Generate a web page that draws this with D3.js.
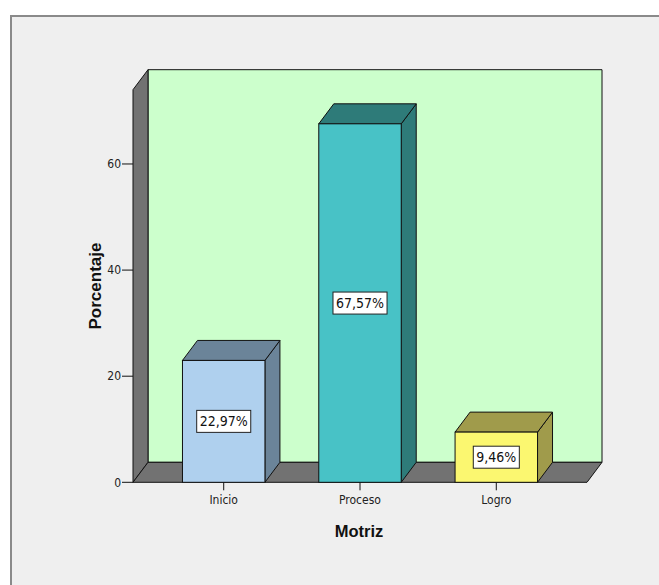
<!DOCTYPE html>
<html>
<head>
<meta charset="utf-8" />
<style>
    body { margin: 0; background: #fff; }
    .narrow { font-family: "Liberation Sans Narrow", "Arial Narrow", "DejaVu Sans Condensed", sans-serif; font-stretch: condensed; }
    .title { font-family: "Liberation Sans", Arial, sans-serif; font-weight: bold; }
</style>
</head>
<body>
<svg width="659" height="585"></svg>
<script src="https://d3js.org/d3.v7.min.js"></script>
<script>
    var categories = ["Inicio", "Proceso", "Logro"];
    var values = [22.97, 67.57, 9.46];
    var valueLabels = ["22,97%", "67,57%", "9,46%"];
    var yTicks = [0, 20, 40, 60];
    var frontColors = ["#afd0ee", "#48c2c6", "#fbf770"];
    var shadeColors = ["#6b8499", "#2e7b79", "#a09b4b"];

    var svg = d3.select("svg");

    // outer panel
    svg.append("rect")
        .attr("x", 11).attr("y", 16)
        .attr("width", 660).attr("height", 590)
        .attr("fill", "#efefef")
        .attr("stroke", "#8a8a8a")
        .attr("stroke-width", 2);

    // 3d depth offset
    var dx = 15, dy = -20;

    var y = d3.scaleLinear().domain([0, 74]).range([482.3, 89.7]);
    var x = d3.scaleBand().domain(categories)
        .range([133, 587])
        .paddingInner(0.395)
        .paddingOuter(0.363);

    var x0 = x.range()[0], x1 = x.range()[1];
    var yb = y(0), yt = y(74);

    function poly(pts) { return "M" + pts.map(p => p.join(",")).join("L") + "Z"; }

    // back wall
    svg.append("path")
        .attr("d", poly([[x0 + dx, yt + dy], [x1 + dx, yt + dy], [x1 + dx, yb + dy], [x0 + dx, yb + dy]]))
        .attr("fill", "#ccffcc").attr("stroke", "#111").attr("stroke-width", 1);

    // left wall
    svg.append("path")
        .attr("d", poly([[x0, yb], [x0, yt], [x0 + dx, yt + dy], [x0 + dx, yb + dy]]))
        .attr("fill", "#727272").attr("stroke", "#111").attr("stroke-width", 1);

    // floor
    svg.append("path")
        .attr("d", poly([[x0, yb], [x1, yb], [x1 + dx, yb + dy], [x0 + dx, yb + dy]]))
        .attr("fill", "#727272").attr("stroke", "#111").attr("stroke-width", 1);

    // bars
    var bars = svg.selectAll(".bar")
        .data(categories)
        .enter().append("g").attr("class", "bar");

    bars.each(function (c, i) {
        var g = d3.select(this);
        var bx = x(c), bw = x.bandwidth(), top = y(values[i]);
        // side
        g.append("path")
            .attr("d", poly([[bx + bw, yb], [bx + bw, top], [bx + bw + dx, top + dy], [bx + bw + dx, yb + dy]]))
            .attr("fill", shadeColors[i]).attr("stroke", "#111").attr("stroke-width", 1);
        // top
        g.append("path")
            .attr("d", poly([[bx, top], [bx + dx, top + dy], [bx + bw + dx, top + dy], [bx + bw, top]]))
            .attr("fill", shadeColors[i]).attr("stroke", "#111").attr("stroke-width", 1);
        // front
        g.append("rect")
            .attr("x", bx).attr("y", top)
            .attr("width", bw).attr("height", yb - top)
            .attr("fill", frontColors[i]).attr("stroke", "#111").attr("stroke-width", 1);

        // value label
        var cy = (top + yb) / 2;
        var t = g.append("text")
            .attr("class", "narrow")
            .attr("x", bx + bw / 2).attr("y", cy)
            .attr("dy", "0.36em")
            .attr("text-anchor", "middle")
            .attr("font-size", 14)
            .attr("fill", "#111")
            .text(valueLabels[i]);
        var bb = t.node().getBBox();
        g.insert("rect", "text")
            .attr("x", bb.x - 3).attr("y", cy - 11)
            .attr("width", bb.width + 6).attr("height", 22)
            .attr("fill", "#fff").attr("stroke", "#222").attr("stroke-width", 1);
    });

    // y axis
    var yAxis = svg.append("g").attr("class", "narrow");
    yAxis.selectAll("line").data(yTicks).enter().append("line")
        .attr("x1", x0 - 11).attr("x2", x0)
        .attr("y1", d => y(d)).attr("y2", d => y(d))
        .attr("stroke", "#111");
    yAxis.selectAll("text").data(yTicks).enter().append("text")
        .attr("x", x0 - 12).attr("y", d => y(d))
        .attr("dy", "0.35em")
        .attr("text-anchor", "end")
        .attr("font-size", 12)
        .attr("fill", "#222")
        .text(d => d);

    // x axis
    var xAxis = svg.append("g").attr("class", "narrow");
    xAxis.selectAll("line").data(categories).enter().append("line")
        .attr("x1", d => x(d) + x.bandwidth() / 2).attr("x2", d => x(d) + x.bandwidth() / 2)
        .attr("y1", yb).attr("y2", yb + 8)
        .attr("stroke", "#111");
    xAxis.selectAll("text").data(categories).enter().append("text")
        .attr("x", d => x(d) + x.bandwidth() / 2).attr("y", yb + 22)
        .attr("text-anchor", "middle")
        .attr("font-size", 12)
        .attr("fill", "#222")
        .text(d => d);

    // axis titles
    svg.append("text")
        .attr("class", "title")
        .attr("x", 359).attr("y", 537)
        .attr("text-anchor", "middle")
        .attr("font-size", 16.5)
        .attr("fill", "#111")
        .text("Motriz");

    svg.append("text")
        .attr("class", "title")
        .attr("transform", "translate(101,286) rotate(-90)")
        .attr("text-anchor", "middle")
        .attr("font-size", 17)
        .attr("fill", "#111")
        .text("Porcentaje");
</script>
</body>
</html>
